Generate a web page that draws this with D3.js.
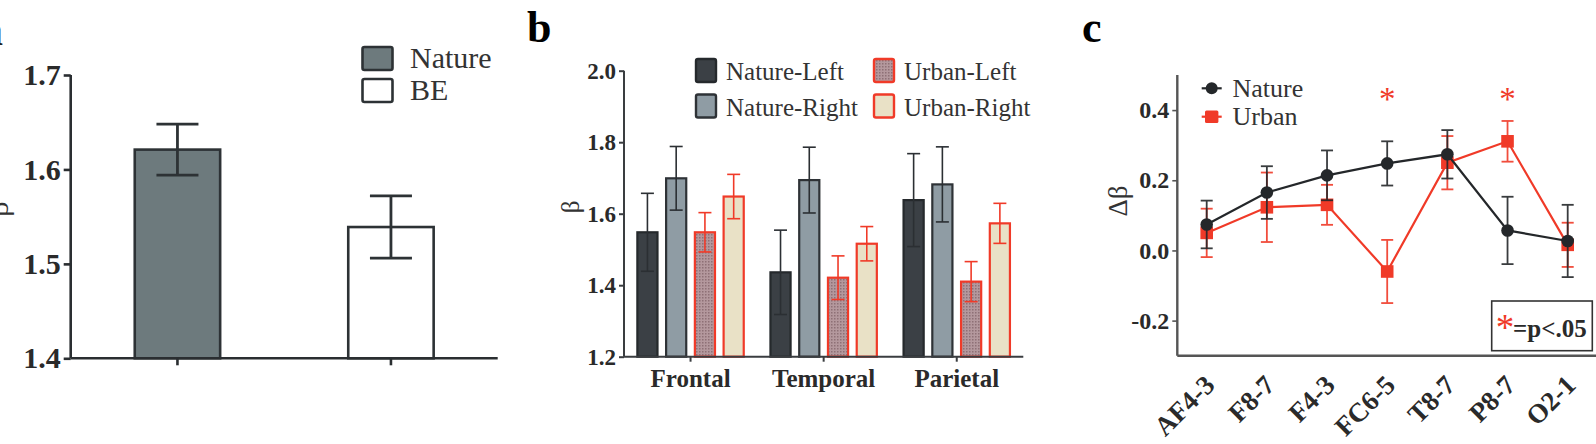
<!DOCTYPE html>
<html>
<head>
<meta charset="utf-8">
<script src="https://cdn.jsdelivr.net/npm/d3@7"></script>
<style>
  body { margin: 0; background: #fff; }
  svg { display: block; }
  text { font-family: "Liberation Serif", "Times New Roman", serif; }
</style>
</head>
<body>
<div id="chart"></div>
<script>
// panel a
var aGroups = ["Nature", "BE"];
var aMeans = [1.621, 1.539];
var aSem = [0.027, 0.033];
var aTicks = [1.4, 1.5, 1.6, 1.7];

// panel b
var regions = ["Frontal", "Temporal", "Parietal"];
var bSeries = ["Nature-Left", "Nature-Right", "Urban-Left", "Urban-Right"];
var natureLeft = [1.548, 1.436, 1.638];
var natureLeftSem = [0.109, 0.118, 0.130];
var natureRight = [1.699, 1.694, 1.682];
var natureRightSem = [0.089, 0.092, 0.105];
var urbanLeft = [1.548, 1.421, 1.410];
var urbanLeftSem = [0.055, 0.061, 0.056];
var urbanRight = [1.648, 1.516, 1.573];
var urbanRightSem = [0.062, 0.048, 0.056];
var bTicks = [1.2, 1.4, 1.6, 1.8, 2.0];

// panel c
var channels = ["AF4-3", "F8-7", "F4-3", "FC6-5", "T8-7", "P8-7", "O2-1"];
var natureDelta = [0.074, 0.165, 0.214, 0.248, 0.274, 0.057, 0.027];
var natureDeltaSem = [0.068, 0.075, 0.071, 0.063, 0.069, 0.096, 0.103];
var urbanDelta = [0.050, 0.123, 0.130, -0.060, 0.250, 0.311, 0.016];
var urbanDeltaSem = [0.069, 0.099, 0.057, 0.090, 0.076, 0.058, 0.063];
var sigChannels = ["FC6-5", "P8-7"];
var cTicks = [-0.2, 0.0, 0.2, 0.4];
var cTickLabels = ["-0.2", "0.0", "0.2", "0.4"];

var RED = "#f03a28";

var svg = d3.select("#chart").append("svg")
  .attr("width", 1596)
  .attr("height", 444);

var defs = svg.append("defs");
var pat = defs.append("pattern")
  .attr("id", "dots")
  .attr("width", 3).attr("height", 3)
  .attr("patternUnits", "userSpaceOnUse");
pat.append("rect").attr("width", 3).attr("height", 3).attr("fill", "#b4989d");
pat.append("rect").attr("width", 1.5).attr("height", 1.5).attr("fill", "#8e7076");

function styleAxis(g, color, width, fontSize) {
  g.select(".domain").attr("stroke", color).attr("stroke-width", width);
  g.selectAll(".tick line").attr("stroke", color).attr("stroke-width", width);
  g.selectAll(".tick text")
    .attr("font-weight", "bold")
    .attr("font-size", fontSize)
    .attr("fill", "#2a2a2a");
}

// ---------------- panel a ----------------
(function() {
  var left = 70.7, right = 497.7, top = 75, bottom = 358.3;
  var g = svg.append("g");

  var x = d3.scaleBand().domain(aGroups).range([left, right])
    .paddingInner(0.6).paddingOuter(0.3);
  var y = d3.scaleLinear().domain([1.4, 1.7]).range([bottom, top]);

  // panel letter and y label sit partly outside the crop, as in the figure
  g.append("text").attr("x", 3).attr("y", 45).attr("text-anchor", "end")
    .attr("font-weight", "bold").attr("font-size", 44).attr("fill", "#222").text("a");

  g.append("text")
    .attr("transform", "translate(8,209) rotate(-90)")
    .attr("text-anchor", "middle").attr("font-size", 30).attr("fill", "#333")
    .text("β");

  var bars = [{k: "Nature", fill: "#6d7a7d"}, {k: "BE", fill: "#ffffff"}];
  g.selectAll("rect.bar").data(aGroups).enter().append("rect")
    .attr("class", "bar")
    .attr("x", function(d) { return x(d); })
    .attr("y", function(d, i) { return y(aMeans[i]); })
    .attr("width", x.bandwidth())
    .attr("height", function(d, i) { return bottom - y(aMeans[i]); })
    .attr("fill", function(d, i) { return bars[i].fill; })
    .attr("stroke", "#2d3235").attr("stroke-width", 2.6);

  var eb = g.selectAll("g.err").data(aGroups).enter().append("g")
    .attr("stroke", "#2d3235").attr("stroke-width", 2.8);
  eb.append("line")
    .attr("x1", function(d) { return x(d) + x.bandwidth() / 2; })
    .attr("x2", function(d) { return x(d) + x.bandwidth() / 2; })
    .attr("y1", function(d, i) { return y(aMeans[i] + aSem[i]); })
    .attr("y2", function(d, i) { return y(aMeans[i] - aSem[i]); });
  [1, -1].forEach(function(s) {
    eb.append("line")
      .attr("x1", function(d) { return x(d) + x.bandwidth() / 2 - 21; })
      .attr("x2", function(d) { return x(d) + x.bandwidth() / 2 + 21; })
      .attr("y1", function(d, i) { return y(aMeans[i] + s * aSem[i]); })
      .attr("y2", function(d, i) { return y(aMeans[i] + s * aSem[i]); });
  });

  var ya = g.append("g").attr("transform", "translate(" + left + ",0)")
    .call(d3.axisLeft(y).tickValues(aTicks).tickFormat(d3.format(".1f")).tickSize(7).tickPadding(3));
  styleAxis(ya, "#2a2e31", 2.6, 30);
  ya.select(".domain").attr("d", "M0," + top + "V" + bottom);

  var xa = g.append("g").attr("transform", "translate(0," + bottom + ")")
    .call(d3.axisBottom(x).tickSize(7).tickFormat(""));
  styleAxis(xa, "#2a2e31", 2.6, 10);
  xa.select(".domain").attr("d", "M" + left + ",0H" + right);

  // legend
  var lg = g.append("g");
  lg.selectAll("rect").data(bars).enter().append("rect")
    .attr("x", 362.5).attr("y", function(d, i) { return 47 + i * 32; })
    .attr("width", 30).attr("height", 23).attr("rx", 2)
    .attr("fill", function(d) { return d.fill; })
    .attr("stroke", "#2d3235").attr("stroke-width", 2.6);
  lg.selectAll("text").data(bars).enter().append("text")
    .attr("x", 410).attr("y", function(d, i) { return 68 + i * 32; })
    .attr("font-size", 30).attr("fill", "#333")
    .text(function(d) { return d.k; });
})();

// ---------------- panel b ----------------
(function() {
  var left = 624, right = 1023.3, top = 70.7, bottom = 356.7;
  var g = svg.append("g");

  var means = [natureLeft, natureRight, urbanLeft, urbanRight];
  var sems = [natureLeftSem, natureRightSem, urbanLeftSem, urbanRightSem];
  var fills = ["#3b4045", "#8f9ca4", "url(#dots)", "#e9e1c6"];
  var strokes = ["#25292c", "#2e3236", RED, RED];
  var errCol = ["#2b2f33", "#2b2f33", RED, RED];

  var x0 = d3.scaleBand().domain(regions).range([left, right]);
  var x1 = d3.scaleBand().domain(bSeries).range([-57.5, 57.5])
    .paddingInner(0.3).paddingOuter(0.15);
  var y = d3.scaleLinear().domain([1.2, 2.0]).range([bottom, top]);

  g.append("text").attr("x", 527).attr("y", 42)
    .attr("font-weight", "bold").attr("font-size", 44).text("b");

  g.append("text")
    .attr("transform", "translate(579,207) rotate(-90)")
    .attr("text-anchor", "middle").attr("font-size", 25).attr("fill", "#333")
    .text("β");

  var data = [];
  regions.forEach(function(r, ri) {
    bSeries.forEach(function(s, si) {
      data.push({r: r, s: s, si: si, v: means[si][ri], e: sems[si][ri]});
    });
  });

  function cx(d) { return x0(d.r) + x0.bandwidth() / 2 + x1(d.s); }

  g.selectAll("rect.bar").data(data).enter().append("rect")
    .attr("x", cx)
    .attr("y", function(d) { return y(d.v); })
    .attr("width", x1.bandwidth())
    .attr("height", function(d) { return bottom - y(d.v); })
    .attr("fill", function(d) { return fills[d.si]; })
    .attr("stroke", function(d) { return strokes[d.si]; })
    .attr("stroke-width", 2.2);

  var eb = g.selectAll("g.err").data(data).enter().append("g")
    .attr("stroke", function(d) { return errCol[d.si]; })
    .attr("stroke-width", 1.6);
  eb.append("line")
    .attr("x1", function(d) { return cx(d) + x1.bandwidth() / 2; })
    .attr("x2", function(d) { return cx(d) + x1.bandwidth() / 2; })
    .attr("y1", function(d) { return y(d.v + d.e); })
    .attr("y2", function(d) { return y(d.v - d.e); });
  [1, -1].forEach(function(s) {
    eb.append("line")
      .attr("x1", function(d) { return cx(d) + x1.bandwidth() / 2 - 6.5; })
      .attr("x2", function(d) { return cx(d) + x1.bandwidth() / 2 + 6.5; })
      .attr("y1", function(d) { return y(d.v + s * d.e); })
      .attr("y2", function(d) { return y(d.v + s * d.e); });
  });

  var ya = g.append("g").attr("transform", "translate(" + left + ",0)")
    .call(d3.axisLeft(y).tickValues(bTicks).tickFormat(d3.format(".1f")).tickSize(5).tickPadding(3));
  styleAxis(ya, "#3a3d40", 2, 23);
  ya.select(".domain").attr("d", "M0," + top + "V" + bottom);

  var xa = g.append("g").attr("transform", "translate(0," + bottom + ")")
    .call(d3.axisBottom(x0).tickSize(5).tickPadding(8));
  styleAxis(xa, "#3a3d40", 2, 25);
  xa.select(".domain").attr("d", "M" + left + ",0H" + right);

  // legend
  var lg = g.append("g");
  var lx = [696, 696, 874, 874], ly = [59, 94.5, 59, 94.5];
  bSeries.forEach(function(s, i) {
    lg.append("rect")
      .attr("x", lx[i]).attr("y", ly[i]).attr("width", 20).attr("height", 23).attr("rx", 2)
      .attr("fill", fills[i]).attr("stroke", strokes[i]).attr("stroke-width", 2.4);
    lg.append("text")
      .attr("x", lx[i] + 30).attr("y", ly[i] + 21)
      .attr("font-size", 25).attr("fill", "#333").text(s);
  });
})();

// ---------------- panel c ----------------
(function() {
  var left = 1177.3, right = 1596, top = 75, bottom = 355.7;
  var g = svg.append("g");

  var x = d3.scalePoint().domain(channels).range([1206.7, 1567.7]);
  var y = d3.scaleLinear().domain([-0.3, 0.5]).range([bottom, top]);

  g.append("text").attr("x", 1082).attr("y", 42)
    .attr("font-weight", "bold").attr("font-size", 44).text("c");

  g.append("text")
    .attr("transform", "translate(1127,201) rotate(-90)")
    .attr("text-anchor", "middle").attr("font-size", 27).attr("fill", "#333")
    .text("Δβ");

  var ya = g.append("g").attr("transform", "translate(" + left + ",0)")
    .call(d3.axisLeft(y).tickValues(cTicks)
      .tickFormat(function(d, i) { return cTickLabels[i]; }).tickSize(5).tickPadding(3));
  styleAxis(ya, "#555", 2.4, 24);
  ya.selectAll(".tick line").attr("stroke-width", 1.6);
  ya.select(".domain").attr("d", "M0," + top + "V" + bottom);

  var xa = g.append("g").attr("transform", "translate(0," + bottom + ")")
    .call(d3.axisBottom(x).tickSize(0).tickPadding(0));
  styleAxis(xa, "#555", 2.4, 27);
  xa.select(".domain").attr("d", "M" + left + ",0H" + right);
  xa.selectAll(".tick text")
    .attr("text-anchor", "end")
    .attr("dy", 0)
    .attr("transform", "translate(9,31) rotate(-45)");

  var series = [
    {name: "Urban", vals: urbanDelta, sem: urbanDeltaSem, color: RED, shape: "square"},
    {name: "Nature", vals: natureDelta, sem: natureDeltaSem, color: "#24272a", shape: "circle"}
  ];

  var line = d3.line()
    .x(function(d) { return x(d.c); })
    .y(function(d) { return y(d.v); });

  series.forEach(function(s) {
    var pts = channels.map(function(c, i) { return {c: c, v: s.vals[i], e: s.sem[i]}; });
    var sg = g.append("g");
    var eb = sg.selectAll("g").data(pts).enter().append("g")
      .attr("stroke", s.color).attr("stroke-width", 1.8).attr("opacity", 0.9);
    eb.append("line")
      .attr("x1", function(d) { return x(d.c); }).attr("x2", function(d) { return x(d.c); })
      .attr("y1", function(d) { return y(d.v + d.e); }).attr("y2", function(d) { return y(d.v - d.e); });
    [1, -1].forEach(function(k) {
      eb.append("line")
        .attr("x1", function(d) { return x(d.c) - 6; }).attr("x2", function(d) { return x(d.c) + 6; })
        .attr("y1", function(d) { return y(d.v + k * d.e); }).attr("y2", function(d) { return y(d.v + k * d.e); });
    });
    sg.append("path").datum(pts)
      .attr("d", line).attr("fill", "none")
      .attr("stroke", s.color).attr("stroke-width", 2.2);
    if (s.shape === "circle") {
      sg.selectAll("circle").data(pts).enter().append("circle")
        .attr("cx", function(d) { return x(d.c); })
        .attr("cy", function(d) { return y(d.v); })
        .attr("r", 6.3).attr("fill", s.color);
    } else {
      sg.selectAll("rect").data(pts).enter().append("rect")
        .attr("x", function(d) { return x(d.c) - 6.3; })
        .attr("y", function(d) { return y(d.v) - 6.3; })
        .attr("width", 12.6).attr("height", 12.6).attr("fill", s.color);
    }
  });

  // significance stars
  g.selectAll("text.sig").data(sigChannels).enter().append("text")
    .attr("x", function(d) { return x(d); }).attr("y", 110)
    .attr("text-anchor", "middle").attr("font-size", 33).attr("fill", RED)
    .text("*");

  // legend
  var lg = g.append("g");
  lg.append("line").attr("x1", 1201.7).attr("x2", 1221.7).attr("y1", 88.3).attr("y2", 88.3)
    .attr("stroke", "#24272a").attr("stroke-width", 2.2);
  lg.append("circle").attr("cx", 1211.7).attr("cy", 88.3).attr("r", 6).attr("fill", "#24272a");
  lg.append("line").attr("x1", 1201.7).attr("x2", 1221.7).attr("y1", 116.7).attr("y2", 116.7)
    .attr("stroke", RED).attr("stroke-width", 2.2);
  lg.append("rect").attr("x", 1205).attr("y", 110.5).attr("width", 13.4).attr("height", 12.4)
    .attr("rx", 1.5).attr("fill", RED);
  lg.append("text").attr("x", 1232.5).attr("y", 97).attr("font-size", 26).attr("fill", "#333").text("Nature");
  lg.append("text").attr("x", 1232.5).attr("y", 125).attr("font-size", 26).attr("fill", "#333").text("Urban");

  // p-value box
  g.append("rect").attr("x", 1491.7).attr("y", 301).attr("width", 100.6).attr("height", 49.7)
    .attr("fill", "#fff").attr("stroke", "#333").attr("stroke-width", 1.6);
  g.append("text").attr("x", 1505).attr("y", 339.5).attr("text-anchor", "middle")
    .attr("font-size", 37).attr("fill", RED).text("*");
  g.append("text").attr("x", 1513).attr("y", 337).attr("font-size", 25)
    .attr("font-weight", "bold").attr("fill", "#2a2a2a").text("=p<.05");
})();
</script>
</body>
</html>
